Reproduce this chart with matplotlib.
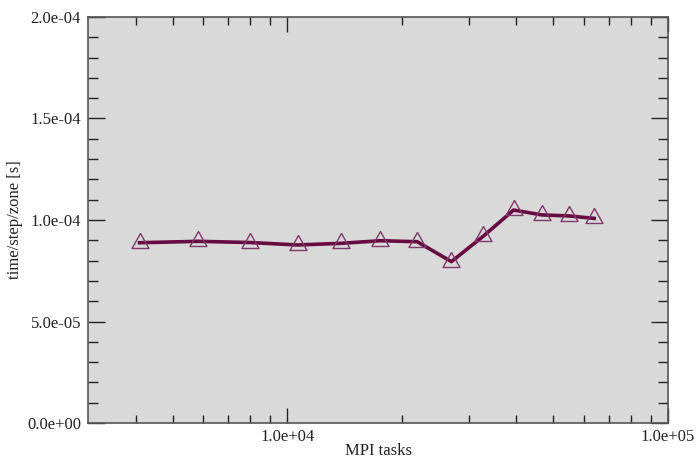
import matplotlib
matplotlib.use("Agg")
import matplotlib.pyplot as plt
from matplotlib.ticker import FixedLocator, MultipleLocator, FuncFormatter

# MPI tasks (cubes 16^3 .. 40^3) and time per step per zone
tasks = [4096, 5832, 8000, 10648, 13824, 17576, 21952, 27000,
         32768, 39304, 46656, 54872, 64000]
time_per_zone = [8.88e-5, 8.95e-5, 8.89e-5, 8.77e-5, 8.85e-5, 8.98e-5, 8.93e-5,
                 7.95e-5, 9.21e-5, 1.049e-4, 1.025e-4, 1.020e-4, 1.008e-4]

x_major = [1e4, 1e5]
x_minor = [4000, 5000, 6000, 7000, 8000, 9000,
           20000, 30000, 40000, 50000, 60000, 70000, 80000, 90000]

plt.rcParams['font.family'] = ['Liberation Serif', 'DejaVu Serif']

fig = plt.figure(figsize=(6.97, 4.59), dpi=100)
ax = fig.add_axes([0.1263, 0.0784, 0.8321, 0.8846])
ax.set_facecolor('#d9d9d9')

# triangle with its centroid on the data point
tri = [(0, 10), (-8.5, -5), (8.5, -5), (0, 10)]

ax.plot(tasks, time_per_zone, color='#660a40', lw=2.6, zorder=3)
ax.plot(tasks, time_per_zone, linestyle='none', marker=tri, markersize=14.4,
        markerfacecolor='none', markeredgecolor='#7d3a6a', markeredgewidth=1.0,
        zorder=4)

ax.set_xscale('log')
ax.set_xlim(3000, 1e5)
ax.set_ylim(0, 2e-4)

ax.xaxis.set_major_locator(FixedLocator(x_major))
ax.xaxis.set_minor_locator(FixedLocator(x_minor))
ax.xaxis.set_major_formatter(FuncFormatter(lambda v, p: '%.1e' % v))
ax.xaxis.set_minor_formatter(FuncFormatter(lambda v, p: ''))
ax.yaxis.set_major_locator(MultipleLocator(5e-5))
ax.yaxis.set_minor_locator(MultipleLocator(1e-5))
ax.yaxis.set_major_formatter(FuncFormatter(lambda v, p: '%.1e' % v))

ax.tick_params(which='both', direction='in', top=True, right=True,
               colors='#222222', labelcolor='#222222', labelsize=12)
ax.tick_params(axis='x', which='major', length=11, width=1, pad=4)
ax.tick_params(axis='x', which='minor', length=6, width=1)
ax.tick_params(axis='y', which='major', length=12, width=1, pad=5)
ax.tick_params(axis='y', which='minor', length=7, width=1)

for s in ax.spines.values():
    s.set_color('#555555')
    s.set_linewidth(1.2)

ax.set_xlabel('MPI tasks', fontsize=12, color='#222222', labelpad=-1)
ax.set_ylabel('time/step/zone [s]', fontsize=12, color='#222222', labelpad=3)

fig.savefig('out.png', dpi=100)
